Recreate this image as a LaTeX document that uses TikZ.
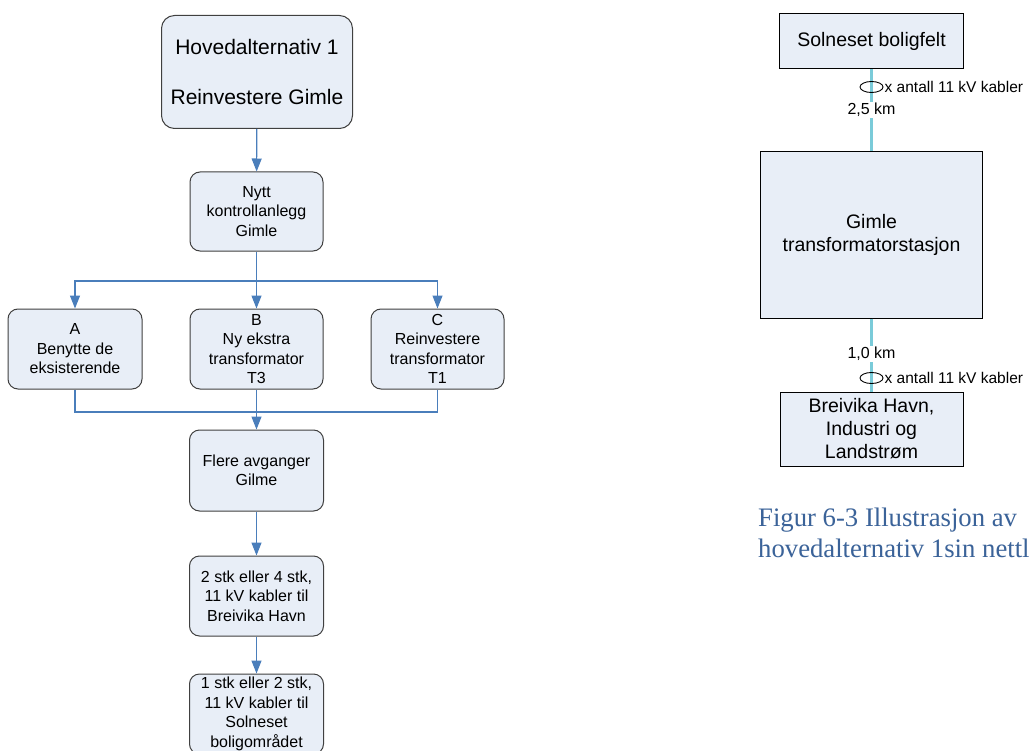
\documentclass[tikz,border=0pt]{standalone}
\usepackage{fontspec}
\setmainfont{Liberation Sans}
\newfontfamily\capfont{Liberation Serif}
\usetikzlibrary{arrows.meta,shapes.geometric}
\definecolor{boxfill}{RGB}{232,238,247}
\definecolor{boxline}{RGB}{64,64,64}
\definecolor{flowblue}{RGB}{74,126,187}
\definecolor{cablecyan}{RGB}{122,203,217}
\definecolor{capblue}{RGB}{59,99,153}
\tikzset{
  rbox/.style={draw=boxline, fill=boxfill, rounded corners=10pt, line width=1pt,
    align=center, inner sep=2pt, font=\fontsize{16}{19.5}\selectfont},
  sbox/.style={draw=black, fill=boxfill, line width=1pt,
    align=center, inner sep=2pt, font=\fontsize{19.5}{23}\selectfont},
  flow/.style={draw=flowblue, line width=1.1pt},
  arr/.style={flow, -{Triangle[width=10pt,length=13pt]}},
  cable/.style={draw=cablecyan, line width=2.4pt},
  ring/.style={draw=black, ellipse, line width=0.9pt, minimum width=23pt, minimum height=11pt, inner sep=0pt},
  lbl/.style={font=\fontsize{15.5}{18}\selectfont, inner sep=1pt},
}
\begin{document}
\begin{tikzpicture}[x=1pt,y=-1pt]
\clip (0,0) rectangle (1032,751);
\fill[white] (0,0) rectangle (1032,751);
% left flowchart
\node[rbox, rounded corners=13pt, minimum width=191pt, minimum height=113pt,
  font=\fontsize{21}{25.5}\selectfont] (top) at (257,72) {Hovedalternativ 1\\[25pt]Reinvestere Gimle};
\node[rbox, minimum width=133pt, minimum height=79pt] (nytt) at (256.5,211.5) {Nytt\\kontrollanlegg\\Gimle};
\node[rbox, minimum width=134pt, minimum height=80pt] (A) at (75,349) {A\\Benytte de\\eksisterende};
\node[rbox, minimum width=133pt, minimum height=80pt] (B) at (256.5,349) {B\\Ny ekstra\\transformator\\T3};
\node[rbox, minimum width=133pt, minimum height=80pt] (C) at (437.5,349) {C\\Reinvestere\\transformator\\T1};
\node[rbox, minimum width=134pt, minimum height=81pt] (flere) at (256.5,470.5) {Flere avganger\\Gilme};
\node[rbox, minimum width=134pt, minimum height=80pt] (to) at (256.5,596) {2 stk eller 4 stk,\\11 kV kabler til\\Breivika Havn};
\node[rbox, minimum width=134pt, minimum height=80pt] (en) at (256.5,714) {1 stk eller 2 stk,\\11 kV kabler til\\Solneset\\boligområdet};
\coordinate (split) at (256.5,281);
\coordinate (merge) at (256.5,412);
\draw[arr] (top) -- (nytt);
\draw[flow] (nytt) -- (split);
\draw[arr] (split) -| (A.north);
\draw[arr] (split) -| (C.north);
\draw[arr] (split) -- (B.north);
\draw[flow] (A.south) |- (merge);
\draw[flow] (C.south) |- (merge);
\draw[arr] (B.south) -- (flere.north);
\draw[arr] (flere) -- (to);
\draw[arr] (to) -- (en);
% right network sketch
\node[sbox, minimum width=184pt, minimum height=55pt] (sol) at (871.5,41.5) {Solneset boligfelt};
\node[sbox, minimum width=222pt, minimum height=166pt] (gimle) at (871.5,235) {Gimle\\transformatorstasjon};
\node[sbox, minimum width=183pt, minimum height=74pt] (breivika) at (871.5,429) {Breivika Havn,\\Industri og\\Landstrøm};
\draw[cable] (sol) -- (gimle);
\draw[cable] (gimle) -- (breivika);
\node[ring] (r1) at (871.5,87) {};
\node[lbl, anchor=west] (t1) at (r1.east) {x antall 11 kV kabler};
\node[lbl, fill=white, font=\fontsize{16}{18}\selectfont] (d1) at (871.5,110) {2,5 km};
\node[lbl, fill=white, font=\fontsize{16}{18}\selectfont] (d2) at (871.5,354) {1,0 km};
\node[ring] (r2) at (871.5,378) {};
\node[lbl, anchor=west] (t2) at (r2.east) {x antall 11 kV kabler};
% caption
\node[anchor=west, align=left, inner sep=0pt, text=capblue,
  font=\capfont\fontsize{26.7}{31}\selectfont] (cap) at (758,532.5) {Figur 6-3 Illustrasjon av\\hovedalternativ 1sin nettl};
\end{tikzpicture}
\end{document}
